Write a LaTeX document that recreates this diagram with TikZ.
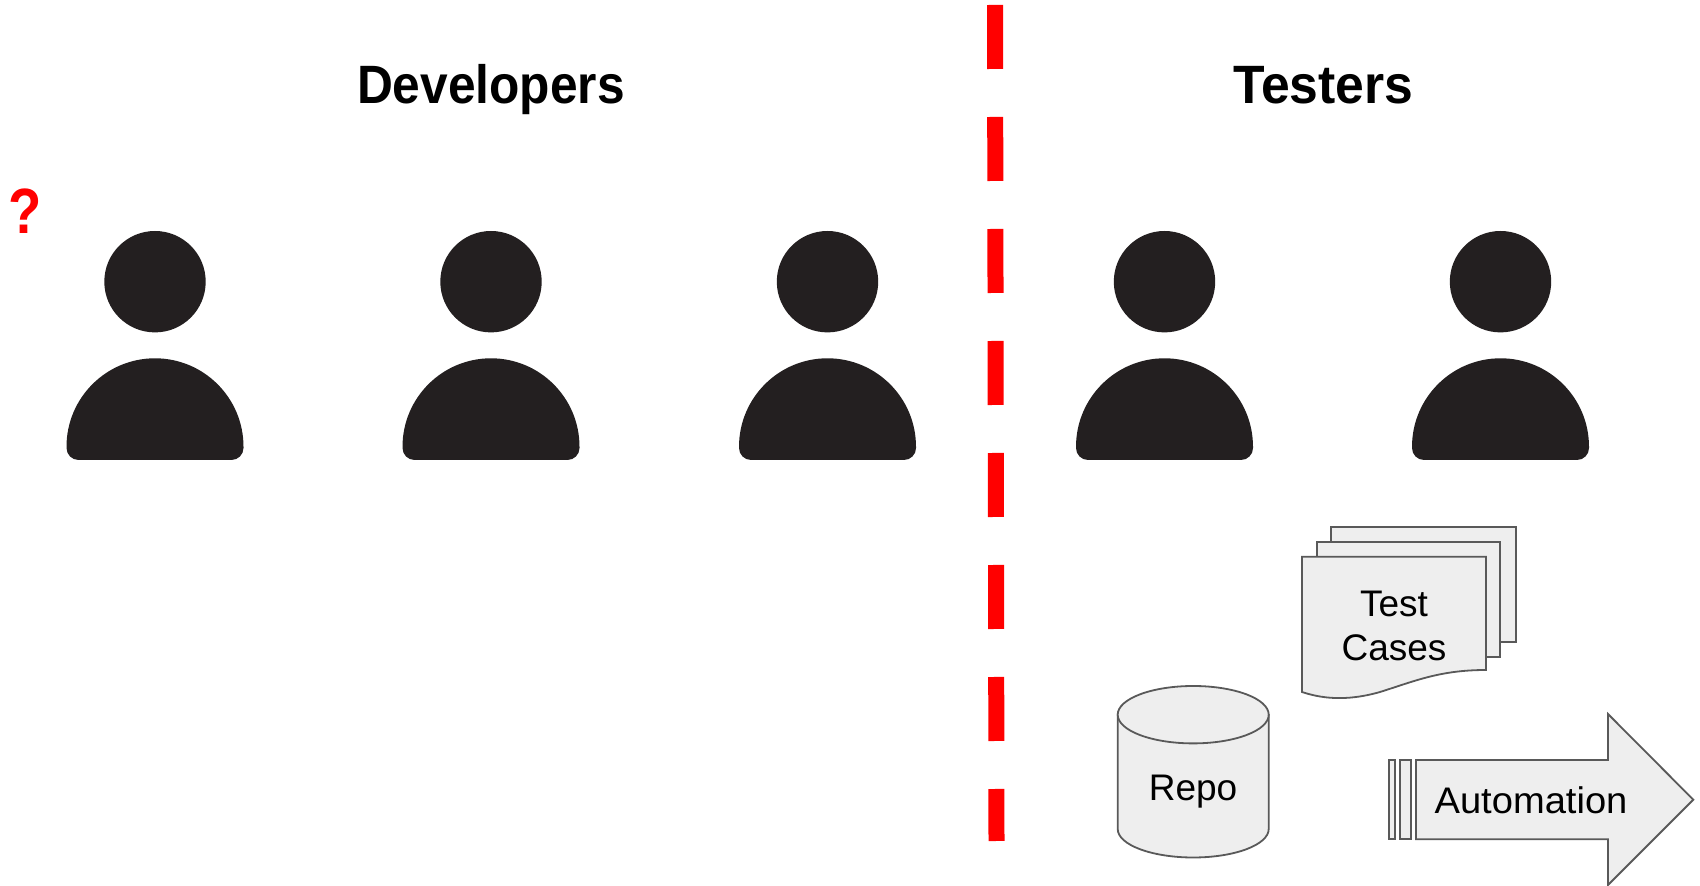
\documentclass[tikz,border=0pt]{standalone}
\usepackage{fontspec}
\setmainfont{Liberation Sans}
\usepackage{tikz}
\definecolor{persondark}{HTML}{231F20}
\definecolor{shapegray}{HTML}{EEEEEE}
\definecolor{shapeline}{HTML}{595959}

\begin{document}
\begin{tikzpicture}[x=1pt,y=1pt,
    headdot/.style={circle,fill=persondark,inner sep=0pt,minimum size=101.4pt},
    bodyfill/.style={fill=persondark},
    grayshape/.style={draw=shapeline,fill=shapegray,line width=1.8pt,line join=miter},
    bigtitle/.style={anchor=base,font=\bfseries\fontsize{54}{60}\selectfont,xscale=.92},
    shapetext/.style={anchor=base,align=center,font=\fontsize{37}{43}\selectfont}]
  \useasboundingbox (0,0) rectangle (1700,886);

  % team split
  \coordinate (cuttop) at (995,881);
  \coordinate (cutbottom) at (996.5,45);
  \draw[red,line width=16pt,dash pattern=on 64pt off 48pt] (cuttop) -- (cutbottom);

  \node[bigtitle] (developers) at (491,782) {Developers};
  \node[bigtitle,xscale=1.04] (testers) at (1323.5,782) {Testers};
  \node[anchor=base,text=red,xscale=.85,font=\bfseries\fontsize{64}{70}\selectfont] (question) at (25,652) {?};

  % people
  \foreach \px/\pname in {155/deva,491/devb,827.5/devc,1164.5/testa,1500.5/testb}{
    \node[headdot] (\pname) at (\px,604.3) {};
    \fill[bodyfill] (\px-88.5,439.2) arc[start angle=180,end angle=0,radius=88.5pt]
      -- (\px+88.5,438) arc[start angle=0,end angle=-90,radius=12pt] -- (\px-76.5,426)
      arc[start angle=270,end angle=180,radius=12pt] -- cycle;
  }

  % test cases
  \draw[grayshape] (1331,358.7) -- (1516,358.7) -- (1516,244) -- (1331,244) -- cycle;
  \draw[grayshape] (1317,344) -- (1500,344) -- (1500,229.3) -- (1317,229.3) -- cycle;
  \draw[grayshape] (1302,329.3) -- (1486,329.3) -- (1486,216)
    .. controls (1440,216) and (1415,205) .. (1380,194)
    .. controls (1345,184) and (1320,188) .. (1302,194) -- cycle;
  \node[shapetext] (test) at (1394,269) {Test};
  \node[shapetext] (cases) at (1394,225.5) {Cases};

  % repo
  \draw[grayshape] (1117.7,171.3) -- (1117.7,57) arc[start angle=180,end angle=360,x radius=75.5pt,y radius=28.5pt]
    -- (1268.7,171.3) -- cycle;
  \draw[grayshape] (1193.2,171.3) ellipse[x radius=75.5pt,y radius=28.7pt];
  \node[shapetext] (repo) at (1193,85) {Repo};

  % automation
  \draw[grayshape] (1389.3,126) rectangle (1395.3,46.7);
  \draw[grayshape] (1400,126) rectangle (1411.3,46.7);
  \draw[grayshape] (1416,126) -- (1608,126) -- (1608,172) -- (1693.3,86.3)
    -- (1608,1) -- (1608,46.7) -- (1416,46.7) -- cycle;
  \node[shapetext,xscale=1.03] (automation) at (1531,72) {Automation};
\end{tikzpicture}
\end{document}
